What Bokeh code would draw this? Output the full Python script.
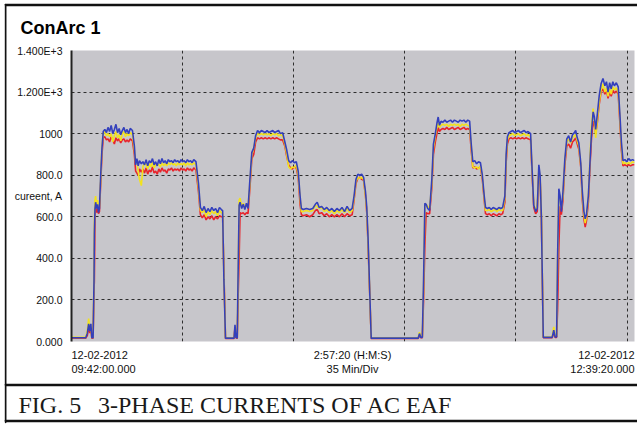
from bokeh.plotting import figure
from bokeh.models import FixedTicker, Range1d, Label, Grid
from bokeh.embed import file_html
from bokeh.resources import INLINE

# Elapsed time since 09:42:00 (minutes) and the three phase currents (A)
minutes = [
    0.0, 4.5, 5.0, 5.4, 5.8, 6.1, 6.4, 6.8, 7.1, 7.2, 7.4, 7.6, 7.9, 8.2, 8.5, 8.8, 9.2, 9.6, 10.0,
    10.5, 11.0, 11.5, 12.0, 12.5, 13.0, 13.5, 14.0, 14.5, 15.0, 15.5, 16.0, 16.5, 17.0, 17.5, 18.0, 18.5, 19.2, 19.8,
    20.2, 20.6, 21.0, 21.4, 22.0, 22.5, 23.0, 23.5, 24.0, 24.5, 25.0, 25.5, 26.0, 26.5, 27.0, 27.5, 28.0, 28.5, 29.0, 29.5,
    30.0, 30.5, 31.0, 31.5, 32.0, 32.5, 33.0, 33.5, 34.0, 34.5, 35.0, 35.5, 36.0, 36.5, 37.0, 37.5, 38.0, 38.5, 39.2,
    40.0, 40.6, 41.2, 41.8, 42.4, 43.0, 43.6, 44.2, 44.8, 45.4, 46.0, 46.6, 47.2, 47.6, 48.0, 48.5,
    51.2, 51.5, 51.8, 52.2, 52.5, 52.8, 53.1, 53.6, 54.1, 54.6, 55.1, 55.6, 56.2, 56.8, 57.4, 58.0, 58.6,
    59.2, 59.8, 60.4, 61.0, 61.6, 62.2, 62.8, 63.4, 64.0, 64.6, 65.2, 65.8, 66.5, 67.2, 67.8, 68.4, 69.0, 69.6, 70.2, 70.8, 71.4, 72.0, 72.4,
    73.0, 74.0, 75.0, 76.0, 76.8, 77.4, 78.0, 78.8, 79.6, 80.4, 81.2, 82.0, 82.8, 83.6, 84.4, 85.2, 86.0, 86.8, 87.6, 88.4,
    89.0, 89.6, 90.2, 90.8, 91.4, 92.0, 92.6, 93.0, 93.4, 94.4,
    109.2, 109.6, 110.0, 110.5, 110.9, 111.3, 111.7, 112.2, 112.8, 113.5, 114.0, 114.6, 115.1, 115.5, 115.9,
    116.4, 117.0, 117.6, 118.2, 118.8, 119.4, 120.0, 120.6, 121.2, 121.8, 122.4, 123.0, 123.6, 124.2, 124.8, 125.4,
    125.9, 126.4, 127.0, 127.6, 128.2, 128.8, 129.4, 130.0, 130.4, 131.0, 131.6, 132.2, 132.8, 133.4, 134.0, 134.6, 135.2, 135.8, 136.5, 136.9, 137.3,
    137.8, 138.4, 139.0, 139.6, 140.2, 140.8, 141.4, 142.0, 142.6, 143.2, 143.8, 144.6, 145.1, 145.6, 146.2, 146.7, 147.2, 147.6, 148.0, 148.3, 148.6,
    151.4, 151.9, 152.3, 152.8,
    153.1, 153.5, 153.9, 154.3, 154.8, 155.4, 156.0, 156.6, 157.2, 157.8, 158.4, 158.8, 159.3, 159.8, 160.4, 160.9, 161.4, 161.8, 162.2, 162.8,
    163.3, 163.8, 164.3, 164.7, 165.1, 165.6, 166.2, 166.8, 167.4,
    168.0, 168.5, 169.0, 169.5, 170.0, 170.5, 171.0, 171.6, 172.2, 172.7, 173.2, 173.7, 174.3, 174.9, 175.5, 176.1, 176.7, 177.33,
]

phase_blue = [
    18, 18, 40, 85, 50, 85, 18, 18, 300, 520, 640, 670, 640, 660, 620, 640, 800, 930, 1010,
    1020, 1005, 1030, 1010, 1040, 1000, 1020, 1045, 1005, 1025, 995, 1015, 1030, 1005, 1020, 1000, 1025, 1015, 940,
    850, 880, 845, 870, 855, 865, 850, 875, 845, 870, 860, 880, 850, 865, 845, 875, 855, 880, 860, 870,
    855, 875, 865, 870, 860, 875, 865, 870, 860, 875, 865, 870, 860, 875, 865, 870, 860, 875, 865,
    760, 645, 630, 650, 620, 640, 625, 645, 630, 640, 620, 645, 635, 630, 300, 16,
    16, 80, 20, 16, 350, 655, 670, 640, 660, 635, 665, 640, 780, 910, 930, 990, 1015,
    1005, 1015, 1010, 1005, 1015, 1005, 1010, 1015, 1005, 1010, 1015, 1000, 1005, 960, 920, 870, 860, 870, 860, 865, 820, 700, 640,
    635, 640, 635, 640, 660, 670, 645, 650, 635, 645, 630, 640, 625, 640, 630, 645, 625, 650, 630, 640,
    700, 780, 805, 800, 805, 790, 720, 645, 500, 16,
    16, 38, 20, 20, 300, 665, 660, 640, 630, 780, 950, 1000, 1050, 1080, 1040,
    1060, 1055, 1065, 1055, 1060, 1065, 1055, 1065, 1060, 1055, 1065, 1060, 1065, 1055, 1065, 1060,
    950, 865, 870, 855, 865, 860, 800, 700, 645, 640, 645, 635, 645, 640, 635, 645, 640, 645, 700, 900, 985,
    1005, 1010, 1015, 1005, 1010, 1015, 1005, 1010, 1015, 1005, 1010, 1000, 820, 655, 625, 640, 850, 800, 600, 300, 20,
    20, 55, 22, 22,
    400, 735, 700, 625, 720, 880, 975, 990, 960, 995, 1005, 1015, 980, 955, 860, 720, 625, 590, 610, 700,
    860, 1010, 1105, 1080, 1020, 1090, 1180, 1240, 1265,
    1230, 1250, 1200, 1245, 1215, 1250, 1230, 1245, 1225, 1100, 960, 870, 875, 865, 880, 870, 875, 870,
]

phase_yellow = [
    20, 20, 55, 110, 60, 75, 20, 20, 330, 560, 680, 700, 660, 680, 640, 650, 780, 940, 1000,
    1010, 990, 1000, 985, 1000, 960, 990, 1010, 980, 995, 965, 1000, 1010, 985, 1000, 990, 1005, 995, 920,
    860, 870, 820, 780, 750, 840, 860, 850, 830, 855, 840, 865, 835, 850, 855, 850, 840, 860, 845, 855,
    845, 860, 850, 860, 850, 855, 845, 860, 850, 855, 850, 860, 845, 860, 850, 855, 850, 860, 850,
    740, 630, 620, 635, 600, 625, 610, 630, 615, 625, 605, 630, 620, 615, 320, 18,
    18, 60, 25, 18, 300, 680, 690, 650, 665, 645, 655, 645, 760, 900, 930, 980, 1000,
    995, 1000, 995, 1000, 995, 1000, 990, 1000, 995, 1000, 990, 995, 990, 950, 900, 840, 830, 840, 835, 850, 800, 690, 625,
    625, 630, 625, 630, 655, 650, 640, 645, 625, 635, 620, 630, 615, 630, 620, 635, 620, 640, 620, 630,
    690, 770, 790, 785, 790, 780, 700, 630, 480, 18,
    18, 45, 25, 22, 260, 650, 660, 650, 640, 760, 930, 990, 1030, 1050, 1030,
    1040, 1045, 1040, 1045, 1035, 1045, 1040, 1045, 1040, 1045, 1035, 1045, 1040, 1045, 1040, 1035,
    940, 840, 835, 840, 830, 845, 790, 690, 630, 630, 635, 625, 630, 635, 625, 635, 630, 630, 690, 880, 970,
    990, 995, 1000, 990, 995, 1000, 990, 995, 1000, 990, 995, 985, 810, 660, 630, 650, 830, 790, 620, 320, 22,
    22, 70, 25, 25,
    380, 720, 690, 640, 700, 870, 960, 975, 955, 980, 990, 995, 965, 940, 850, 700, 610, 570, 600, 690,
    880, 1040, 1120, 1060, 980, 1060, 1150, 1210, 1240,
    1200, 1220, 1180, 1215, 1190, 1225, 1210, 1220, 1200, 1080, 940, 855, 860, 855, 860, 855, 865, 860,
]

phase_red = [
    16, 16, 30, 70, 40, 60, 16, 16, 250, 290, 600, 640, 620, 640, 615, 625, 760, 900, 980,
    985, 970, 975, 960, 985, 970, 950, 980, 965, 975, 955, 970, 975, 960, 970, 960, 975, 965, 900,
    820, 810, 800, 830, 815, 830, 810, 835, 805, 825, 815, 840, 810, 820, 805, 830, 815, 835, 820, 825,
    810, 830, 825, 835, 820, 830, 825, 830, 820, 835, 825, 830, 820, 835, 825, 830, 820, 835, 825,
    720, 610, 595, 610, 585, 600, 590, 605, 585, 600, 590, 605, 600, 600, 340, 15,
    15, 70, 18, 15, 220, 400, 620, 615, 620, 610, 620, 615, 740, 880, 900, 960, 980,
    975, 980, 975, 980, 975, 980, 975, 980, 975, 980, 975, 970, 970, 940, 890, 850, 835, 830, 840, 835, 790, 660, 610,
    605, 610, 600, 610, 630, 635, 615, 620, 605, 615, 600, 610, 600, 610, 600, 615, 600, 615, 605, 610,
    680, 760, 785, 790, 780, 775, 700, 620, 470, 15,
    15, 30, 18, 18, 200, 460, 620, 615, 615, 740, 900, 960, 1000, 1030, 1010,
    1020, 1025, 1020, 1030, 1020, 1025, 1030, 1020, 1025, 1030, 1020, 1025, 1030, 1020, 1025, 1020,
    920, 835, 840, 830, 835, 840, 780, 680, 615, 610, 615, 605, 615, 610, 605, 615, 610, 615, 670, 860, 950,
    975, 980, 975, 980, 975, 980, 975, 980, 975, 980, 975, 970, 800, 645, 615, 625, 820, 780, 590, 300, 18,
    18, 45, 20, 20,
    150, 450, 650, 610, 680, 850, 940, 950, 930, 960, 970, 980, 950, 925, 840, 680, 590, 550, 580, 670,
    840, 980, 1060, 1040, 1000, 1050, 1140, 1200, 1215,
    1190, 1210, 1170, 1200, 1180, 1210, 1195, 1205, 1190, 1060, 920, 845, 850, 845, 850, 845, 850, 850,
]

# Axis ticks and labels
y_ticks = [0, 200, 400, 600, 700, 800, 1000, 1200, 1400]
y_tick_labels = ["0.000", "200.0", "400.0", "600.0", "cureent, A", "800.0", "1000", "1.200E+3", "1.400E+3"]
y_grid = [200, 400, 600, 800, 1000, 1200]
x_grid = [35, 70, 105, 140, 175]
y_limits = [0, 1400]
span_minutes = 177.33

start_date, start_time = "12-02-2012", "09:42:00.000"
mid_span, mid_div = "2:57:20 (H:M:S)", "35 Min/Div"
end_date, end_time = "12-02-2012", "12:39:20.000"
caption = "FIG. 5\u00a0\u00a0\u20093-PHASE CURRENTS OF AC EAF"

SANS = "Liberation Sans"
INK = "#111111"
FRAME_EDGE = "#3a3a3a"

p = figure(width=637, height=425, output_backend="svg", toolbar_location=None,
           x_range=Range1d(0, span_minutes), y_range=Range1d(*y_limits),
           x_axis_location=None,
           min_border_left=71, min_border_right=3, min_border_top=50, min_border_bottom=84)

p.background_fill_color = "#c7c6cb"
p.border_fill_color = "white"
p.outline_line_color = None

p.yaxis.ticker = FixedTicker(ticks=y_ticks)
p.yaxis.major_label_overrides = dict(zip(y_ticks, y_tick_labels))
p.yaxis.major_tick_line_color = None
p.yaxis.minor_tick_line_color = None
p.yaxis.axis_line_color = "#222222"
p.yaxis.axis_line_width = 2
p.yaxis.major_label_standoff = 3
p.yaxis.major_label_text_font = SANS
p.yaxis.major_label_text_font_size = "10.5px"
p.yaxis.major_label_text_color = INK

p.ygrid.ticker = FixedTicker(ticks=y_grid)
p.xgrid.ticker = FixedTicker(ticks=x_grid)
for g in (p.xgrid, p.ygrid):
    g.grid_line_color = "#2e2e2e"
    g.grid_line_dash = "3 3"
    g.grid_line_width = 1

# Solid edges of the plotting area (top, bottom and right)
p.add_layout(Grid(dimension=1, ticker=FixedTicker(ticks=y_limits),
                  grid_line_color=FRAME_EDGE, grid_line_width=3))
p.add_layout(Grid(dimension=0, ticker=FixedTicker(ticks=[span_minutes]),
                  grid_line_color=FRAME_EDGE, grid_line_width=3))

# Phase currents
p.line(minutes, phase_red, line_color="#e8242c", line_width=1.6)
p.line(minutes, phase_yellow, line_color="#f2e21e", line_width=1.6)
p.line(minutes, phase_blue, line_color="#3440bc", line_width=1.6)


def canvas_text(t, x, y, place, size="11px", font=SANS, align="left", style="normal", color=INK):
    p.add_layout(Label(x=x, y=y, x_units="canvas", y_units="canvas", text=t,
                       text_font=font, text_font_size=size, text_align=align,
                       text_baseline="middle", text_font_style=style, text_color=color), place)


def rule(x, y, place, length_x=0, length_y=0):
    # a thin outlined box around an empty glyph, stretched by its padding into a line
    p.add_layout(Label(x=x, y=y, x_units="canvas", y_units="canvas", text="\u00a0",
                       text_font_size="1px", text_align="left", text_baseline="top",
                       padding=dict(left=0, right=length_x, top=0, bottom=length_y),
                       border_line_color=INK, border_line_width=1.4,
                       background_fill_color=None), place)


# Outer box and caption separator, running out to the right edge of the page
rule(5, 4, "above", length_x=633)
rule(5, 384, "below", length_x=633)
rule(5, 420, "below", length_x=633)
rule(5, 4, "left", length_y=417)

# Chart title
canvas_text("ConArc 1", 20, 27, "above", size="18px", style="bold", color="#000000")

# Time scale annotations under the plot (split between the panels to keep the frame fixed)
canvas_text(mid_span, 352, 354.5, "above", align="center")
canvas_text(mid_div, 352, 368, "above", align="center")
canvas_text(start_date, 71, 354.5, "below")
canvas_text(start_time, 71, 368, "below")
canvas_text(end_date, 634, 354.5, "below", align="right")
canvas_text(end_time, 634, 368, "below", align="right")

# Figure caption
canvas_text(caption, 18, 404, "below", size="24px", font="Liberation Serif", color="#1a1a1a")

open("out.html", "w").write(file_html(p, INLINE))
